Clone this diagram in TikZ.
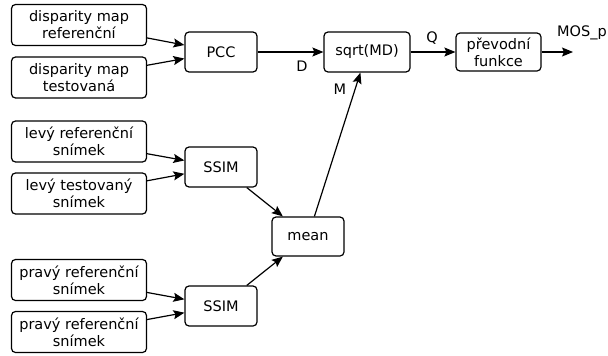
\documentclass[tikz,border=0pt]{standalone}
\usepackage{fontspec}
\setmainfont{DejaVu Sans}
\usetikzlibrary{arrows.meta}
\begin{document}
\begin{tikzpicture}[x=1pt,y=-1pt,
  every node/.style={font=\fontsize{14.5}{17}\selectfont},
  box/.style={draw,rounded corners=4pt,line width=1.2pt,align=center,inner sep=0pt},
  srcbox/.style={box,minimum width=135pt,minimum height=41pt},
  opbox/.style={box,minimum width=72pt,minimum height=40pt},
  conn/.style={line width=1.2pt,-{Stealth[length=11pt,width=9pt,inset=2pt]}},
  lbl/.style={inner sep=0pt}]
\useasboundingbox (0,0) rectangle (608,356);
\node[srcbox] (dr) at (79,25) {disparity map\\referenční};
\node[srcbox] (dt) at (79,77.5) {disparity map\\testovaná};
\node[srcbox] (lr) at (79,141.5) {levý referenční\\snímek};
\node[srcbox] (lt) at (79,193.5) {levý testovaný\\snímek};
\node[srcbox] (pr) at (79,280) {pravý referenční\\snímek};
\node[srcbox] (pt) at (79,332) {pravý referenční\\snímek};
\node[opbox] (pcc) at (221,52) {PCC};
\node[opbox] (s1) at (221,167) {SSIM};
\node[opbox] (s2) at (221,306) {SSIM};
\node[opbox,minimum height=39pt] (mean) at (308,236.5) {mean};
\node[opbox,minimum width=86pt] (sq) at (367,52) {sqrt(MD)};
\node[opbox,minimum width=85pt,minimum height=38pt] (pf) at (498.5,52) {převodní\\funkce};
\coordinate (out) at (573,52);
\draw[conn] (dr) -- (pcc);
\draw[conn] (dt) -- (pcc);
\draw[conn] (lr) -- (s1);
\draw[conn] (lt) -- (s1);
\draw[conn] (pr) -- (s2);
\draw[conn] (pt) -- (s2);
\draw[conn] (s1) -- (mean);
\draw[conn] (s2) -- (mean);
\draw[conn] (mean) -- (sq);
\draw[conn] (pcc) -- (sq);
\draw[conn] (sq) -- (pf);
\draw[conn] (pf) -- (out);
\node[lbl] (ld) at (302,66) {D};
\node[lbl] (lq) at (432,38) {Q};
\node[lbl] (lm) at (340,89) {M};
\node[lbl] (lmos) at (582,33) {MOS\_p};
\end{tikzpicture}
\end{document}
